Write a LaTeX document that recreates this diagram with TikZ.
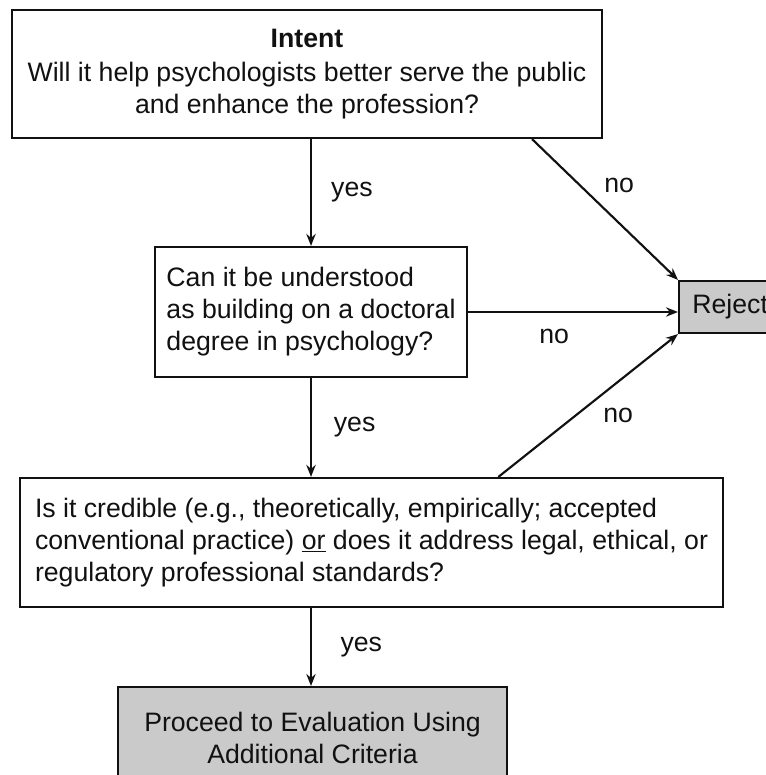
\documentclass[tikz,border=0pt]{standalone}
\usepackage{fontspec}
\setmainfont{Liberation Sans}
\usepackage{tikz}
\usetikzlibrary{arrows.meta,positioning,calc}
\definecolor{ink}{HTML}{111111}
\definecolor{shade}{HTML}{CACACA}
\newcommand{\bigtext}{\fontsize{20}{24}\selectfont}
\tikzset{
  box/.style={rectangle, draw=ink, fill=white, line width=1.6pt, inner sep=0pt,
              align=left, font=\bigtext, text=ink},
  greybox/.style={box, fill=shade},
  lbl/.style={font=\bigtext, text=ink, inner sep=3.33pt},
  flow/.style={-{Stealth[length=9pt,width=7pt]}, draw=ink, line width=1.6pt}
}

\begin{document}
\begin{tikzpicture}[x=0.75pt, y=-0.75pt]
  \useasboundingbox (0,0) rectangle (766,775);
  \clip (0,0) rectangle (766,775);
  % decisions
  \node[box, align=center, minimum width=442.5pt, minimum height=96pt] (intent) at (307,74)
    {\textbf{Intent}\\[1pt]Will it help psychologists better serve the public\\and enhance the profession?};
  \node[box, minimum width=234pt, minimum height=97.5pt] (ask) at (311,312)
    {Can it be understood\\as building on a doctoral\\degree in psychology?};
  \node[box, minimum width=527pt, minimum height=96.75pt] (credible) at (371.5,542.5)
    {Is it credible (e.g., theoretically, empirically; accepted\\conventional practice) \underline{or} does it address legal, ethical, or\\regulatory professional standards?};
  % outcomes
  \node[greybox, anchor=west, inner xsep=10pt, minimum height=39pt] (reject) at (678,307) {Reject};
  \node[greybox, anchor=north, align=center, minimum width=291.75pt, minimum height=77pt] (proceed) at (312.5,686)
    {Proceed to Evaluation Using\\Additional Criteria};
  \draw[flow] (intent.south -| ask.north)--node[lbl, midway, right=11pt]{yes}(ask.north);
  \draw[flow] (ask.south)--node[lbl, midway, right=13pt]{yes}(credible.north -| ask.south);
  \draw[flow] (credible.south -| ask.south)--node[lbl, midway, right=18pt]{yes}(proceed.north -| ask.south);
  \draw[flow] ($(intent.south west)!0.88!(intent.south east)$)--node[lbl, pos=0.33, right=14pt]{no}(reject.north west);
  \draw[flow] (ask.east)--node[lbl, pos=0.41, below=8.5pt]{no}(ask.east -| reject.west);
  \draw[flow] ($(credible.north west)!0.68!(credible.north east)$)--node[lbl, pos=0.667, below=16pt]{no}(reject.south west);
\end{tikzpicture}
\end{document}
